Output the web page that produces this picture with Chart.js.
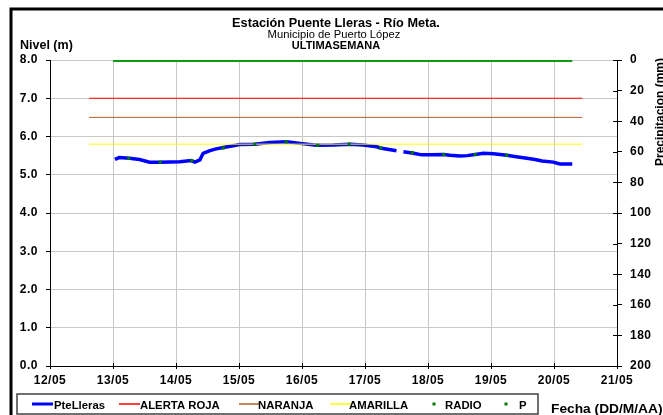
<!DOCTYPE html>
<html>
<head>
<meta charset="utf-8">
<script src="https://cdn.jsdelivr.net/npm/chart.js@4.4.1/dist/chart.umd.min.js"></script>
<style>
  html, body { margin: 0; padding: 0; background: #fff; }
</style>
</head>
<body>
<canvas id="chart" width="663" height="415"></canvas>
<script>
// titles
const titleLines = ['Estación Puente Lleras - Río Meta.', 'Municipio de Puerto López', 'ULTIMASEMANA']
const leftAxisTitle = 'Nivel (m)'
const rightAxisTitle = 'Precipitacion (mm)'
const xAxisTitle = 'Fecha (DD/M/AA)'

// x axis: day of May
const firstDay = 12
const dayLabels = ['12/05', '13/05', '14/05', '15/05', '16/05', '17/05', '18/05', '19/05', '20/05', '21/05']

// PteLleras level (m)
const levelTimes = [13.03, 13.10, 13.26, 13.42, 13.58, 13.74, 14.06, 14.24, 14.30, 14.38, 14.43, 14.54, 14.62, 14.75, 14.91,
  15.01, 15.25, 15.49, 15.76, 15.97, 16.23, 16.50, 16.76, 16.97, 17.19, 17.24, 17.50, 17.55, 17.61, 17.77, 17.90,
  18.05, 18.25, 18.35, 18.51, 18.62, 18.75, 18.88, 19.04, 19.25, 19.40, 19.57, 19.70, 19.81, 19.99, 20.05, 20.10, 20.29]
const levelValues = [5.40, 5.45, 5.43, 5.40, 5.33, 5.33, 5.34, 5.37, 5.33, 5.39, 5.56, 5.63, 5.67, 5.71, 5.76,
  5.79, 5.80, 5.84, 5.86, 5.82, 5.77, 5.78, 5.80, 5.78, 5.73, 5.70, 5.63, null, 5.60, 5.56, 5.52,
  5.52, 5.53, 5.51, 5.49, 5.50, 5.53, 5.56, 5.55, 5.51, 5.47, 5.43, 5.40, 5.36, 5.33, 5.30, 5.28, 5.28]

// alert thresholds (m)
const alertTimes = [12.62, 20.45]
const alertaRoja = [7.0, 7.0]
const naranja = [6.5, 6.5]
const amarilla = [5.8, 5.8]

// RADIO readings (m)
const radioTimes = [13.25, 13.75, 14.25, 14.75, 15.25, 15.75, 16.25, 16.75, 17.25, 17.75, 18.25, 18.75, 19.25]
const radioValues = [5.43, 5.33, 5.37, 5.70, 5.80, 5.86, 5.77, 5.80, 5.70, 5.58, 5.53, 5.53, 5.51]

// P precipitation (mm)
const rainTimes = [13.00, 13.25, 13.50, 13.75, 14.00, 14.25, 14.50, 14.75, 15.00, 15.25, 15.50, 15.75, 16.00, 16.25, 16.50,
  16.75, 17.00, 17.25, 17.50, 17.75, 18.00, 18.25, 18.50, 18.75, 19.00, 19.25, 19.50, 19.75, 20.00, 20.25, 20.29]
const rainValues = [0, 0, 0, 0, 0, 0, 0, 0, 0, 0, 0, 0, 0, 0, 0,
  0, 0, 0, 0, 0, 0, 0, 0, 0, 0, 0, 0, 0, 0, 0, 0]

function pairs(xs, ys) {
  return xs.map((t, i) => ({ x: t, y: ys[i] }))
}

const FONT = '"Liberation Sans", Arial, sans-serif'

// text squeezed/stretched sideways like the original export
function drawText(ctx, text, x, y, font, align, sx) {
  ctx.save()
  ctx.letterSpacing = '0px'
  ctx.font = font
  ctx.textAlign = align
  ctx.translate(x, y)
  ctx.scale(sx, 1)
  ctx.fillText(text, 0, 0)
  ctx.restore()
}

// legend slots: symbol x, text x
const legendSlots = [[32, 54], [119, 140], [239, 258], [330, 349], [434, 445], [506, 519]]

const decor = {
  id: 'decor',
  beforeDraw(chart) {
    const ctx = chart.ctx
    ctx.letterSpacing = '0.5px'
    ctx.save()
    ctx.fillStyle = '#fff'
    ctx.fillRect(0, 0, chart.width, chart.height)
    ctx.restore()
  },
  afterDraw(chart) {
    const ctx = chart.ctx
    const xs = chart.scales.x
    const y2 = chart.scales.y2
    ctx.save()

    // ticks that cross into the plot
    ctx.strokeStyle = '#000'
    ctx.lineWidth = 1
    y2.ticks.forEach(t => {
      const py = Math.round(y2.getPixelForValue(t.value)) + 0.5
      ctx.beginPath(); ctx.moveTo(y2.left - 4, py); ctx.lineTo(y2.left, py); ctx.stroke()
    })
    xs.ticks.forEach(t => {
      const px = Math.round(xs.getPixelForValue(t.value)) + 0.5
      ctx.beginPath(); ctx.moveTo(px, xs.top - 3); ctx.lineTo(px, xs.top); ctx.stroke()
    })

    // outer frame
    ctx.lineWidth = 3
    ctx.beginPath(); ctx.moveTo(11, 415); ctx.lineTo(11, 9); ctx.lineTo(663, 9); ctx.stroke()

    // titles
    ctx.fillStyle = '#000'
    ctx.textBaseline = 'alphabetic'
    drawText(ctx, titleLines[0], 336, 27, 'bold 12px ' + FONT, 'center', 1.06)
    drawText(ctx, titleLines[1], 334, 37.5, '11px ' + FONT, 'center', 1.02)
    drawText(ctx, titleLines[2], 336, 48.5, 'bold 11px ' + FONT, 'center', 1.0)

    drawText(ctx, leftAxisTitle, 20, 49, 'bold 12.5px ' + FONT, 'left', 1.0)
    drawText(ctx, xAxisTitle, 551, 412.5, 'bold 12.5px ' + FONT, 'left', 1.1)

    ctx.save()
    ctx.translate(661, 112)
    ctx.rotate(-Math.PI / 2)
    ctx.textBaseline = 'middle'
    drawText(ctx, rightAxisTitle, 0, 0, 'bold 12px ' + FONT, 'center', 1.0)
    ctx.restore()

    // legend
    ctx.strokeStyle = '#404040'
    ctx.lineWidth = 1.5
    ctx.strokeRect(17, 394, 521, 20)
    const ly = 404
    chart.data.datasets.forEach((ds, i) => {
      const [sx, tx] = legendSlots[i]
      if (ds.legendDot) {
        ctx.fillStyle = ds.legendDot
        ctx.fillRect(sx - 1.5, ly - 1.5, 3, 3)
      } else {
        ctx.strokeStyle = ds.borderColor
        ctx.lineWidth = ds.borderWidth >= 3 ? 3 : 1.5
        ctx.beginPath(); ctx.moveTo(sx, ly); ctx.lineTo(sx + 21, ly); ctx.stroke()
      }
      ctx.fillStyle = '#000'
      drawText(ctx, ds.label, tx, 409, 'bold 10.5px ' + FONT, 'left', 1.08)
    })
    ctx.restore()
  }
}

new Chart(document.getElementById('chart'), {
  type: 'line',
  data: {
    datasets: [{
      label: 'PteLleras',
      data: pairs(levelTimes, levelValues),
      borderColor: '#0000ff',
      borderWidth: 3.5,
      pointRadius: 0,
      spanGaps: false,
      order: 6,
      yAxisID: 'y'
    }, {
      label: 'ALERTA ROJA',
      data: pairs(alertTimes, alertaRoja),
      borderColor: '#ff0000',
      borderWidth: 1,
      pointRadius: 0,
      order: 5,
      yAxisID: 'y'
    }, {
      label: 'NARANJA',
      data: pairs(alertTimes, naranja),
      borderColor: '#b0602c',
      borderWidth: 1,
      pointRadius: 0,
      order: 4,
      yAxisID: 'y'
    }, {
      label: 'AMARILLA',
      data: pairs(alertTimes, amarilla),
      borderColor: '#ffff00',
      borderWidth: 1,
      pointRadius: 0,
      order: 3,
      yAxisID: 'y'
    }, {
      label: 'RADIO',
      data: pairs(radioTimes, radioValues),
      showLine: false,
      pointStyle: 'rect',
      pointRadius: 2.2,
      pointBorderWidth: 0,
      pointBackgroundColor: '#007a00',
      borderColor: '#007a00',
      legendDot: '#007a00',
      order: 1,
      yAxisID: 'y'
    }, {
      label: 'P',
      data: pairs(rainTimes, rainValues),
      borderColor: '#129a12',
      borderWidth: 4,
      pointRadius: 0,
      legendDot: '#007a00',
      order: 2,
      yAxisID: 'y2'
    }]
  },
  options: {
    responsive: false,
    animation: false,
    layout: { padding: { left: 0, right: 0, top: 60, bottom: 0 } },
    plugins: {
      legend: { display: false },
      tooltip: { enabled: false }
    },
    scales: {
      x: {
        type: 'linear',
        min: 12,
        max: 21,
        afterFit: scale => { scale.height = 49 },
        ticks: {
          stepSize: 1,
          padding: 4,
          color: '#000',
          font: { family: FONT, size: 12, weight: 'bold' },
          maxRotation: 0,
          callback: v => dayLabels[Math.round(v - firstDay)]
        },
        grid: { color: '#c8c8c8', tickColor: '#000', tickLength: 3 },
        border: { color: '#000' }
      },
      y: {
        position: 'left',
        min: 0,
        max: 8,
        afterFit: scale => { scale.width = 50 },
        ticks: {
          stepSize: 1,
          padding: 8,
          color: '#000',
          font: { family: FONT, size: 12, weight: 'bold' },
          callback: v => v.toFixed(1)
        },
        grid: { color: '#c8c8c8', tickColor: '#000', tickLength: 4 },
        border: { color: '#000' }
      },
      y2: {
        position: 'right',
        reverse: true,
        min: 0,
        max: 200,
        afterFit: scale => { scale.width = 46 },
        ticks: {
          stepSize: 20,
          padding: 8,
          color: '#000',
          font: { family: FONT, size: 12, weight: 'bold' }
        },
        grid: { drawOnChartArea: false, tickColor: '#000', tickLength: 5 },
        border: { color: '#000' }
      }
    }
  },
  plugins: [decor]
})
</script>
</body>
</html>
